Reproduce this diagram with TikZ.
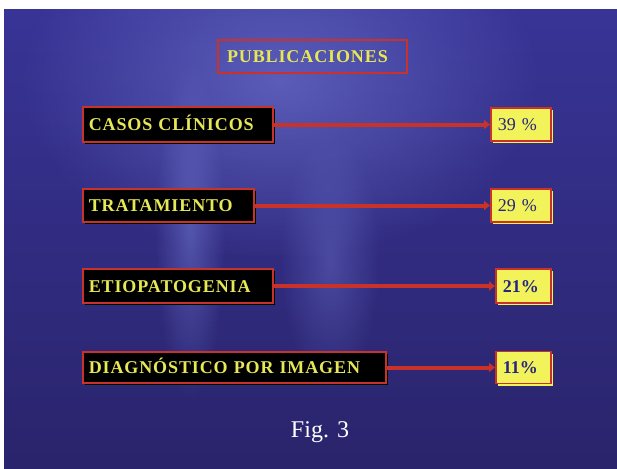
\documentclass[tikz,border=0pt]{standalone}
\usepackage{fontspec}
\setmainfont{Liberation Serif}
\newfontfamily\labfont[LetterSpace=5]{Liberation Serif}
\usetikzlibrary{arrows.meta,shadows,fadings}

\definecolor{bgtop}{RGB}{56,52,150}
\definecolor{bgbottom}{RGB}{42,36,108}
\definecolor{bglight}{RGB}{115,122,212}
\definecolor{boxred}{RGB}{200,50,40}
\definecolor{labyellow}{RGB}{230,232,85}
\definecolor{pctyellow}{RGB}{242,242,90}
\definecolor{pctnavy}{RGB}{38,38,130}

\tikzfading[name=blob, inner color=transparent!0, outer color=transparent!100]

\begin{document}
\begin{tikzpicture}[x=1pt,y=-1pt,
    cat/.style={draw=boxred, line width=1.5pt, fill=black, text=labyellow, anchor=west, align=left,
      font=\labfont\bfseries\fontsize{18}{20}\selectfont, text height=12.5pt, text depth=0pt, inner xsep=6pt,
      copy shadow={shadow xshift=2pt, shadow yshift=-2pt, draw=none, fill=black}},
    pct/.style={draw=boxred, line width=1.5pt, fill=pctyellow, text=pctnavy, anchor=west, align=left,
      font=\fontsize{18}{20}\selectfont, text height=12.5pt, text depth=0pt, inner xsep=7pt,
      copy shadow={shadow xshift=2pt, shadow yshift=-2pt, draw=none, fill=pctyellow}},
    link/.style={draw=boxred, line width=4pt, -{Triangle[length=6pt,width=9pt]}}]

    % fondo
    \fill[white] (0,0) rectangle (617,468);
    \shade[top color=bgtop, bottom color=bgbottom] (4,10) rectangle (617,468);
    \begin{scope}
        \clip (4,10) rectangle (617,468);
        \fill[bglight, opacity=.6, path fading=blob] (280,80) ellipse [x radius=260, y radius=180];
        \fill[bglight, opacity=.5, path fading=blob] (190,230) ellipse [x radius=35, y radius=170];
        \fill[bglight, opacity=.4, path fading=blob] (330,260) ellipse [x radius=50, y radius=130];
    \end{scope}

    \node[draw=boxred, line width=1.2pt, text=labyellow, align=left, text width=171pt, inner xsep=9pt,
        minimum height=33pt, text height=12.5pt, text depth=0pt,
        font=\labfont\bfseries\fontsize{18}{20}\selectfont] (titulo) at (312.5,56.5) {PUBLICACIONES};

    \node[cat, text width=178pt, minimum height=35pt] (casos) at (82,124.5) {CASOS CLÍNICOS};
    \node[cat, text width=159pt, minimum height=33pt] (trat) at (82,205.5) {TRATAMIENTO};
    \node[cat, text width=178pt, minimum height=34pt] (etio) at (82,286) {ETIOPATOGENIA};
    \node[cat, text width=291pt, minimum height=31pt] (diag) at (82,367.5) {DIAGNÓSTICO POR IMAGEN};

    \node[pct, text width=46pt, minimum height=33pt] (p39) at (490,124.5) {39 \%};
    \node[pct, text width=46pt, minimum height=33pt] (p29) at (490,205.5) {29 \%};
    \node[pct, text width=41pt, minimum height=34pt] (p21) at (495,286) {\bfseries 21\%};
    \node[pct, text width=41pt, minimum height=32pt] (p11) at (495,367.5) {\bfseries 11\%};

    \draw[link] (casos.east) -- (casos.east -| p39.west);
    \draw[link] (trat.east) -- (trat.east -| p29.west);
    \draw[link] (etio.east) -- (etio.east -| p21.west);
    \draw[link] (diag.east) -- (diag.east -| p11.west);

    \node[text=white, font=\fontsize{24}{26}\selectfont] (fig) at (320,432) {Fig. 3};
\end{tikzpicture}
\end{document}
